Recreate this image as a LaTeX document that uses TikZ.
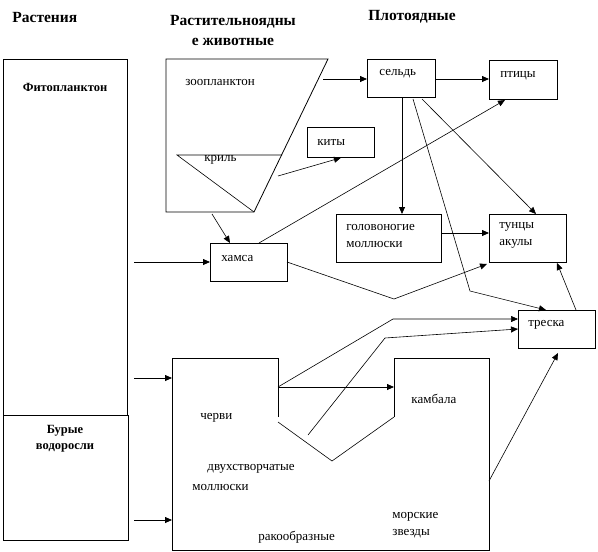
\documentclass[tikz,border=0pt]{standalone}
\usepackage{fontspec}
\setmainfont{Liberation Serif}
\usetikzlibrary{arrows.meta,calc}
\begin{document}
\begin{tikzpicture}[x=1pt,y=-1pt,
  every path/.style={line width=0.8pt},
  box/.style={draw,line width=0.8pt,inner sep=0pt,anchor=north west},
  lbl/.style={anchor=west,inner sep=0pt,font=\fontsize{13}{17}\selectfont,align=left},
  head/.style={inner sep=0pt,font=\fontsize{15.5}{20}\selectfont\bfseries,align=center},
  bhead/.style={inner sep=0pt,font=\fontsize{12.5}{16}\selectfont\bfseries,align=center},
  arr/.style={-{Triangle[length=7pt,width=6pt]},line width=0.8pt},
  thin/.style={line width=0.6pt}]
\useasboundingbox (0,0) rectangle (598,552);
% headings
\node[head,anchor=west] (h1) at (12,17) {Растения};
\node[head] (h2) at (233,30) {Растительноядны\\е животные};
\node[head,anchor=west] (h3) at (368,17) {Плотоядные};
% boxes
\node[box,minimum width=124pt,minimum height=356pt] (phyto) at (3,59) {};
\node[box,minimum width=125pt,minimum height=125pt] (algae) at (3,415) {};
\node[box,minimum width=68pt,minimum height=38pt] (seld) at (367,59) {};
\node[box,minimum width=68pt,minimum height=39pt] (ptitsy) at (489,60) {};
\node[box,minimum width=67pt,minimum height=30pt] (kity) at (307,127) {};
\node[box,minimum width=105pt,minimum height=48pt] (golov) at (336,214) {};
\node[box,minimum width=77pt,minimum height=48pt] (tuntsy) at (489,214) {};
\node[box,minimum width=77pt,minimum height=38pt] (khamsa) at (210,243) {};
\node[box,minimum width=77pt,minimum height=38pt] (treska) at (518,310) {};
% zooplankton trapezoid and krill triangle
\coordinate (z1) at (166,59); \coordinate (z2) at (328,59);
\coordinate (z3) at (254,212); \coordinate (z4) at (166,212);
\draw (z1) -- (z2) -- (z3) -- (z4) -- cycle;
\coordinate (k1) at (177,155); \coordinate (k2) at (282,155);
\draw[thin] (k2) -- (k1) -- (z3);
% benthos shape
\coordinate (b1) at (172,358); \coordinate (b2) at (278,358); \coordinate (b3) at (278,417);
\coordinate (b4) at (278,422); \coordinate (b5) at (332,461); \coordinate (b6) at (394,417);
\coordinate (b7) at (394,358); \coordinate (b8) at (489,358); \coordinate (b9) at (489,550);
\coordinate (b10) at (172,550);
\draw (b3) -- (b2) -- (b1) -- (b10) -- (b9) -- (b8) -- (b7) -- (b6);
\draw[thin] (b6) -- (b5) -- (b4);
% labels
\node[bhead] (tphyto) at (65,87) {Фитопланктон};
\node[bhead] (talgae) at (65,439) {Бурые\\водоросли};
\node[lbl] (tzoo) at (185,82) {зоопланктон};
\node[lbl] (tkril) at (204,160) {криль};
\node[lbl] (tkity) at (317,143) {киты};
\node[lbl] (tseld) at (379,74) {сельдь};
\node[lbl] (tptitsy) at (500,76) {птицы};
\node[lbl] (tgolov) at (346,235.5) {головоногие\\моллюски};
\node[lbl] (ttuntsy) at (499,235.5) {тунцы\\акулы};
\node[lbl] (tkhamsa) at (221,258) {хамса};
\node[lbl] (ttreska) at (528,325) {треска};
\node[lbl] (tcherv) at (200,418) {черви};
\node[lbl] (tdvuh) at (207,469) {двухстворчатые};
\node[lbl] (tmoll) at (192,487) {моллюски};
\node[lbl] (trak) at (258,537) {ракообразные};
\node[lbl] (tkamb) at (411,399) {камбала};
\node[lbl] (tmorsk) at (392,525) {морские\\звезды};
% connector points
\coordinate (zs) at (323,79);
\coordinate (ks) at (278,176);
\coordinate (zb) at (212,214);
\coordinate (khin) at (230,243);
\coordinate (ph1) at (134,262);
\coordinate (khtop) at (259,243);
\coordinate (ptbot) at (505,100);
\coordinate (khr) at (287,262);
\coordinate (v1) at (394,299);
\coordinate (tsin) at (487,264);
\coordinate (sd1) at (422,99);
\coordinate (tstop) at (536,214);
\coordinate (sd2) at (413,99);
\coordinate (v2) at (470,291);
\coordinate (trtop) at (546,310);
\coordinate (gs) at (441,233);
\coordinate (ge) at (489,233);
\coordinate (trs) at (576,310);
\coordinate (tse) at (557,263);
\coordinate (ph2) at (134,378);
\coordinate (bin1) at (172,378);
\coordinate (ph3) at (134,520);
\coordinate (bin2) at (172,520);
\coordinate (cv) at (278,387);
\coordinate (kb) at (394,387);
\coordinate (v3) at (393,319);
\coordinate (tr1) at (518,319);
\coordinate (c2) at (308,435);
\coordinate (v4) at (385,338);
\coordinate (tr2) at (518,329);
\coordinate (br) at (489,481);
\coordinate (trb) at (558,353);
% connectors
\draw[arr] (zs) -- (zs -| seld.west);
\draw[arr] (seld.east |- zs) -- (zs -| ptitsy.west);
\draw[arr,thin] (ks) -- (kity.south);
\draw[arr,thin] (zb) -- (khin);
\draw[arr] (ph1) -- (ph1 -| khamsa.west);
\draw[arr,thin] (khtop) -- (ptbot);
\draw[arr,thin] (khr) -- (v1) -- (tsin);
\draw[arr] (402,97) -- (402,214);
\draw[arr,thin] (sd1) -- (tstop);
\draw[arr,thin] (sd2) -- (v2) -- (trtop);
\draw[arr] (gs) -- (ge);
\draw[arr,thin] (trs) -- (tse);
\draw[arr] (ph2) -- (bin1);
\draw[arr] (ph3) -- (bin2);
\draw[arr] (cv) -- (kb);
\draw[arr,thin] (cv) -- (v3) -- (tr1);
\draw[arr,thin] (c2) -- (v4) -- (tr2);
\draw[arr,thin] (br) -- (trb);
\end{tikzpicture}
\end{document}
